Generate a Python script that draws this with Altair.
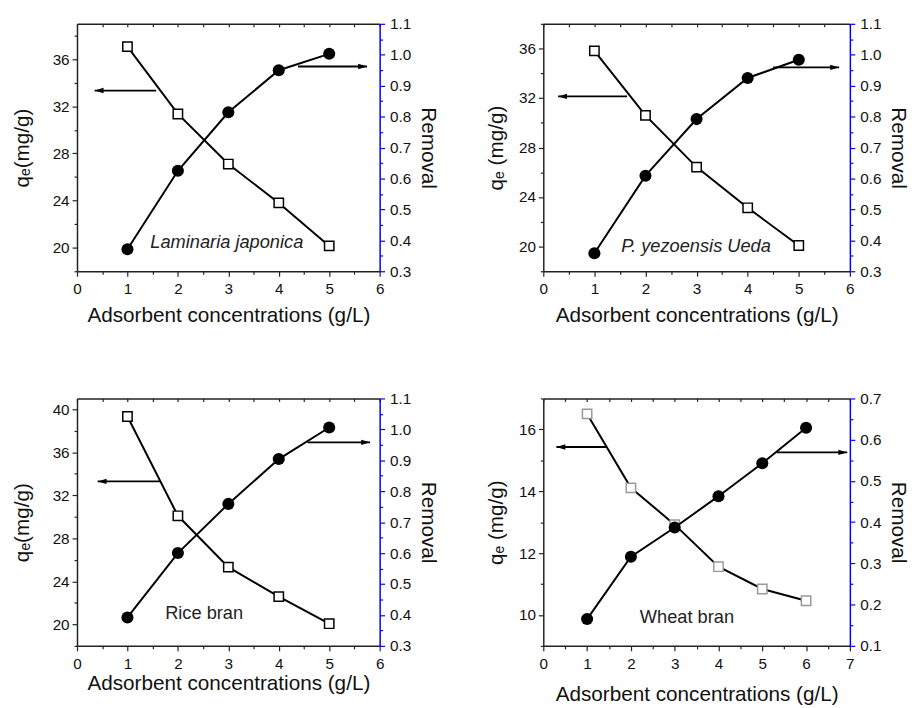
import altair as alt
import pandas as pd

FONT = "Liberation Sans, Arial, Helvetica, sans-serif"

# ---------------- data ----------------
# Panel A: Laminaria japonica
a_conc = [1, 2, 3, 4, 5]
a_qe = [37.07, 31.35, 27.10, 23.80, 20.15]
a_removal = [0.371, 0.625, 0.814, 0.950, 1.003]
a_arrow_left = [1.57, 0.35, 33.34]     # from x, to x, q_e level
a_arrow_right = [4.38, 5.75, 0.962]    # from x, to x, removal level
a_label = ["Laminaria japonica", 2.97, 20.5]

# Panel B: P. yezoensis Ueda
b_conc = [1, 2, 3, 4, 5]
b_qe = [35.81, 30.60, 26.42, 23.13, 20.08]
b_removal = [0.358, 0.609, 0.792, 0.925, 0.984]
b_arrow_left = [1.64, 0.29, 32.13]
b_arrow_right = [4.50, 5.79, 0.959]
b_label = ["P. yezoensis Ueda", 2.99, 20.03]

# Panel C: Rice bran
c_conc = [1, 2, 3, 4, 5]
c_qe = [39.32, 30.09, 25.32, 22.58, 20.06]
c_removal = [0.392, 0.600, 0.759, 0.904, 1.006]
c_arrow_left = [1.65, 0.41, 33.29]
c_arrow_right = [4.57, 5.81, 0.958]
c_label = ["Rice bran", 2.52, 21.02]

# Panel D: Wheat bran
d_conc = [1, 2, 3, 4, 5, 6]
d_qe = [16.50, 14.11, 12.92, 11.56, 10.84, 10.46]
d_removal = [0.165, 0.316, 0.387, 0.463, 0.543, 0.629]
d_arrow_left = [1.43, 0.30, 15.43]
d_arrow_right = [5.33, 6.94, 0.569]
d_label = ["Wheat bran", 3.28, 9.92]

# axis tick values
x_ticks_6 = [0, 0.5, 1, 1.5, 2, 2.5, 3, 3.5, 4, 4.5, 5, 5.5, 6]
x_ticks_7 = x_ticks_6 + [6.5, 7]
left_ticks_a = [18, 20, 22, 24, 26, 28, 30, 32, 34, 36, 38]
left_ticks_c = [18, 20, 22, 24, 26, 28, 30, 32, 34, 36, 38, 40]
left_ticks_d = [9, 10, 11, 12, 13, 14, 15, 16, 17]
right_ticks_a = [round(0.30 + 0.05 * i, 2) for i in range(17)]
right_ticks_d = [round(0.10 + 0.05 * i, 2) for i in range(13)]

XTITLE = "Adsorbent concentrations (g/L)"
LEFT_HEAD = "M0,0L2,-0.6L2,0.6Z"
RIGHT_HEAD = "M0,0L-2,-0.6L-2,0.6Z"


def panel(conc, qe, rem, arr_l, arr_r, label, italic, xdom, xticks,
          ldom, lticks, lmajor, rdom, rticks, sq_stroke, ytitle,
          xtp, ltp, rtp, w, h):
    xs = alt.Scale(domain=xdom, nice=False, zero=False)
    ls = alt.Scale(domain=ldom, nice=False, zero=False)
    rs = alt.Scale(domain=rdom, nice=False, zero=False)

    x_axis = alt.Axis(
        orient="bottom", values=xticks,
        labelExpr="datum.value % 1 === 0 ? format(datum.value, 'd') : ''",
        tickSize={"condition": {"test": "datum.value % 1 === 0", "value": 5}, "value": 3},
        title=XTITLE, titlePadding=xtp, labelPadding=6,
        domainColor="#222", tickColor="#222", domainWidth=1.5, tickWidth=1.2,
        labelFlush=False, labelOverlap=False, grid=False,
    )
    top_axis = alt.Axis(
        orient="top", values=xticks, labels=False, title=None,
        tickSize={"expr": "-3"}, domainColor="#222", tickColor="#222",
        domainWidth=1.5, tickWidth=1.2, grid=False,
    )
    left_axis = alt.Axis(
        orient="left", values=lticks,
        labelExpr=f"datum.value % {lmajor} === 0 ? format(datum.value, 'd') : ''",
        tickSize={"condition": {"test": f"datum.value % {lmajor} === 0", "value": 5}, "value": 3},
        title=ytitle, titlePadding=ltp, labelPadding=3,
        domainColor="#222", tickColor="#222", domainWidth=1.5, tickWidth=1.2,
        labelFlush=False, labelOverlap=False, grid=False,
    )
    right_axis = alt.Axis(
        orient="right", values=rticks,
        labelExpr="round(datum.value * 20) % 2 === 0 ? format(datum.value, '.1f') : ''",
        tickSize={"condition": {"test": "round(datum.value * 20) % 2 === 0", "value": 5}, "value": 3},
        title="Removal", titlePadding=rtp, labelPadding=5,
        domainColor="#0000ff", tickColor="#0000ff", domainWidth=1.5, tickWidth=1.2,
        labelFlush=False, labelOverlap=False, grid=False,
    )

    df = pd.DataFrame({"conc": conc, "qe": qe, "removal": rem})
    sq_line = alt.Chart(df).mark_line(color="black", strokeWidth=2).encode(
        x=alt.X("conc:Q", scale=xs, axis=x_axis),
        y=alt.Y("qe:Q", scale=ls, axis=left_axis),
    )
    sq_pts = alt.Chart(df).mark_point(
        shape="square", filled=True, fill="white", stroke=sq_stroke,
        strokeWidth=1.5, size=90, opacity=1,
    ).encode(
        x=alt.X("conc:Q", scale=xs, axis=top_axis),
        y=alt.Y("qe:Q", scale=ls, axis=None),
    )
    ci_line = alt.Chart(df).mark_line(color="black", strokeWidth=2).encode(
        x=alt.X("conc:Q", scale=xs, axis=None),
        y=alt.Y("removal:Q", scale=rs, axis=right_axis),
    )
    ci_pts = alt.Chart(df).mark_point(
        shape="circle", filled=True, color="black", size=150, opacity=1,
    ).encode(
        x=alt.X("conc:Q", scale=xs, axis=None),
        y=alt.Y("removal:Q", scale=rs, axis=None),
    )

    dfl = pd.DataFrame({"x": [arr_l[0], arr_l[1]], "y": [arr_l[2], arr_l[2]]})
    dfl_h = pd.DataFrame({"x": [arr_l[1]], "y": [arr_l[2]]})
    dfr = pd.DataFrame({"x": [arr_r[0], arr_r[1]], "y": [arr_r[2], arr_r[2]]})
    dfr_h = pd.DataFrame({"x": [arr_r[1]], "y": [arr_r[2]]})

    al_line = alt.Chart(dfl).mark_line(color="black", strokeWidth=1.8).encode(
        x=alt.X("x:Q", scale=xs, axis=None), y=alt.Y("y:Q", scale=ls, axis=None))
    al_head = alt.Chart(dfl_h).mark_point(
        shape=LEFT_HEAD, filled=True, color="black", size=81, opacity=1).encode(
        x=alt.X("x:Q", scale=xs, axis=None), y=alt.Y("y:Q", scale=ls, axis=None))
    ar_line = alt.Chart(dfr).mark_line(color="black", strokeWidth=1.8).encode(
        x=alt.X("x:Q", scale=xs, axis=None), y=alt.Y("y:Q", scale=rs, axis=None))
    ar_head = alt.Chart(dfr_h).mark_point(
        shape=RIGHT_HEAD, filled=True, color="black", size=81, opacity=1).encode(
        x=alt.X("x:Q", scale=xs, axis=None), y=alt.Y("y:Q", scale=rs, axis=None))

    dft = pd.DataFrame({"x": [label[1]], "y": [label[2]], "t": [label[0]]})
    txt = alt.Chart(dft).mark_text(
        font=FONT, fontSize=18.5, fontStyle="italic" if italic else "normal",
        color="#222", align="center", baseline="middle",
    ).encode(
        x=alt.X("x:Q", scale=xs, axis=None), y=alt.Y("y:Q", scale=ls, axis=None),
        text="t:N",
    )

    return alt.layer(
        sq_line, sq_pts, al_line, al_head, ci_line, ci_pts, ar_line, ar_head, txt
    ).resolve_scale(y="independent").properties(width=w, height=h)


p1 = panel(a_conc, a_qe, a_removal, a_arrow_left, a_arrow_right, a_label, True,
           [0, 6], x_ticks_6, [18, 39], left_ticks_a, 4, [0.3, 1.1], right_ticks_a,
           "black", "qₑ(mg/g)", 7, 20, 7, 307, 251)
p2 = panel(b_conc, b_qe, b_removal, b_arrow_left, b_arrow_right, b_label, True,
           [0, 6], x_ticks_6, [18, 38], left_ticks_a, 4, [0.3, 1.1], right_ticks_a,
           "black", "qₑ (mg/g)", 7, 12, 7, 311, 251)
p3 = panel(c_conc, c_qe, c_removal, c_arrow_left, c_arrow_right, c_label, False,
           [0, 6], x_ticks_6, [18, 41], left_ticks_c, 4, [0.3, 1.1], right_ticks_a,
           "black", "qₑ(mg/g)", 1, 20, 7, 307, 251)
p4 = panel(d_conc, d_qe, d_removal, d_arrow_left, d_arrow_right, d_label, False,
           [0, 7], x_ticks_7, [9, 17], left_ticks_d, 2, [0.1, 0.7], right_ticks_d,
           "#999999", "qₑ (mg/g)", 12, 12, 7, 311, 251)

chart = alt.ConcatChart(
    concat=[p1, p2, p3, p4], columns=2,
    spacing={"row": 129, "column": 166}, bounds="flush",
).properties(
    padding={"left": 3, "top": 4, "right": 2, "bottom": 0}
).configure_view(strokeWidth=0).configure_axis(
    labelFont=FONT, titleFont=FONT, labelFontSize=15.5, titleFontSize=21,
    titleFontWeight="normal", labelColor="#111", titleColor="#111", grid=False,
)

chart.save("out.html", embed_options={"renderer": "svg", "actions": False})
